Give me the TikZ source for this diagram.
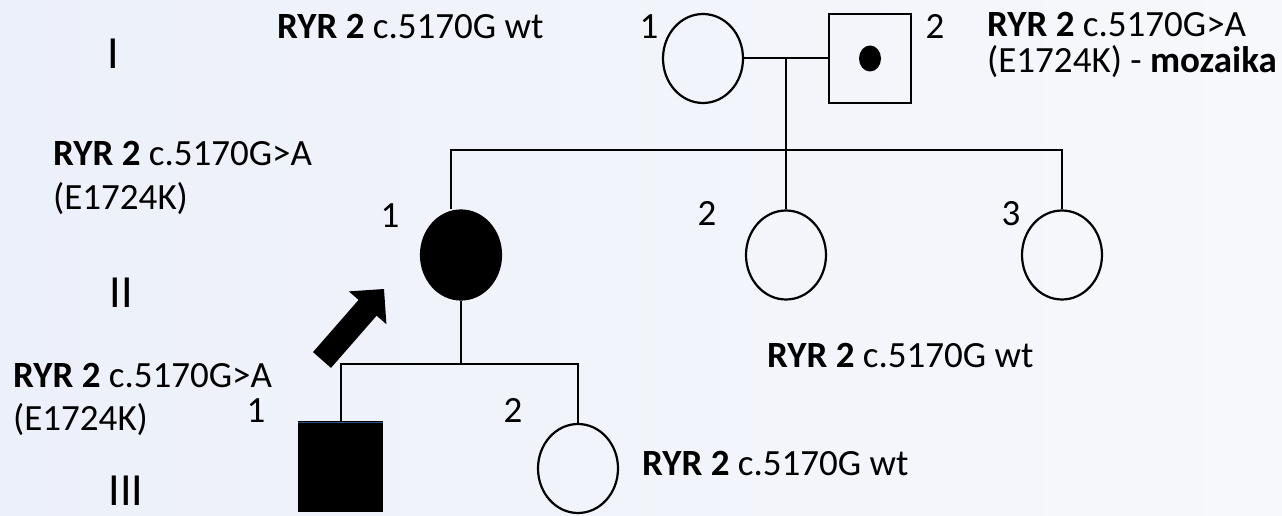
\documentclass[tikz,border=0pt]{standalone}
\usepackage{fontspec}
\setmainfont{Carlito}
\usetikzlibrary{shapes.geometric}
\definecolor{bgleft}{RGB}{236,240,250}
\definecolor{bgright}{RGB}{247,248,251}
\definecolor{edgeblue}{RGB}{40,80,130}
\tikzset{
  txt/.style={inner sep=0pt, font=\fontsize{37}{44}\selectfont, text=black},
  gen/.style={inner sep=0pt, font=\fontsize{46}{55}\selectfont, text=black},
  female/.style={ellipse, draw=black, line width=2.2pt, minimum width=80pt, minimum height=89pt, inner sep=0pt},
  male/.style={rectangle, draw=black, line width=2.2pt, minimum width=82pt, minimum height=89pt, inner sep=0pt},
  link/.style={draw=black, line width=2pt},
}
\begin{document}
\begin{tikzpicture}[x=1pt,y=-1pt]
\useasboundingbox (0,0) rectangle (1282,516);
\shade[left color=bgleft, right color=bgright] (0,0) rectangle (1282,516);

% generation numerals
\node[gen, anchor=base] (gI) at (113,69) {I};
\node[gen, anchor=base] (gII) at (121,307) {II};
\node[gen, anchor=base] (gIII) at (126,505) {III};

% generation I
\node[female] (I1) at (703,58.5) {};
\node[male] (I2) at (870,58.5) {};
\node[ellipse, fill=black, minimum width=22pt, minimum height=26pt, inner sep=0pt] (I2dot) at (870,58.5) {};
\node[txt, anchor=base] (nI1) at (649,39) {1};
\node[txt, anchor=base] (nI2) at (935,39) {2};

% generation II
\node[female, fill=black] (II1) at (461,255) {};
\node[female] (II2) at (786,255) {};
\node[female] (II3) at (1062,255) {};
\node[txt, anchor=base] (nII1) at (390,227) {1};
\node[txt, anchor=base] (nII2) at (707,225) {2};
\node[txt, anchor=base] (nII3) at (1011,225) {3};

% generation III
\node[male, fill=black, minimum width=83pt] (III1) at (340.5,466.5) {};
\node[female] (III2) at (578,468.5) {};
\node[txt, anchor=base] (nIII1) at (256,422) {1};
\node[txt, anchor=base] (nIII2) at (513,422) {2};
\draw[edgeblue, line width=1.6pt] ([yshift=-1.6pt]III1.north west) -- ([yshift=-1.6pt]III1.north east);

% connectors
\coordinate (m1) at (786,58.5);
\coordinate (sL) at (451,150);
\coordinate (sR) at (1062,150);
\coordinate (c3) at (461,364);
\draw[link] (I1.east) -- (I2.west);
\draw[link] (m1) -- (m1 |- sL);
\draw[link] (sL |- II1.north) -- (sL) -- (sR) -- (II3.north);
\draw[link] (II2.north) -- (II2.north |- sL);
\draw[link] (II1.south) -- (c3);
\draw[link] (III1.north) -- (III1.north |- c3) -- (III2.north |- c3) -- (III2.north);

% proband arrow
\fill[black] (313,352.1) -- (331,367.9) -- (376.6,315.7) -- (386.4,324.2) -- (384,289) -- (348.8,291.4) -- (358.6,299.9) -- cycle;

% annotations
\node[txt, anchor=base west] (aI1) at (277,39) {\textbf{RYR 2} c.5170G wt};
\node[txt, anchor=base west] (aI2a) at (987,37) {\textbf{RYR 2} c.5170G>A};
\node[txt, anchor=base west] (aI2b) at (987,73) {(E1724K) - \textbf{mozaika}};
\node[txt, anchor=base west] (aII1a) at (53,165) {\textbf{RYR 2} c.5170G>A};
\node[txt, anchor=base west] (aII1b) at (53,209) {(E1724K)};
\node[txt, anchor=base west] (aII23) at (767,367) {\textbf{RYR 2} c.5170G wt};
\node[txt, anchor=base west] (aIII1a) at (13,387) {\textbf{RYR 2} c.5170G>A};
\node[txt, anchor=base west] (aIII1b) at (13,430) {(E1724K)};
\node[txt, anchor=base west] (aIII2) at (642,475) {\textbf{RYR 2} c.5170G wt};
\end{tikzpicture}
\end{document}
